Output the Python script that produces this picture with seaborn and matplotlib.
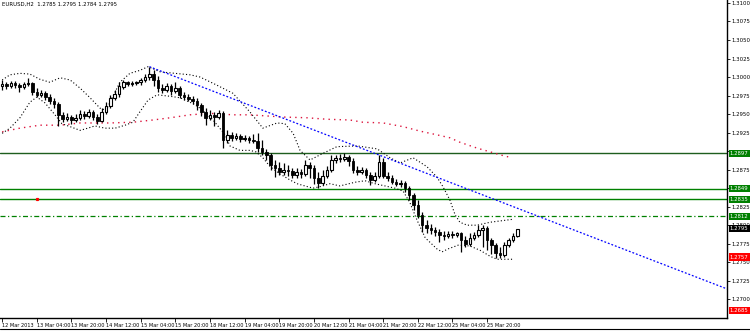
import matplotlib
matplotlib.use("Agg")
import matplotlib.pyplot as plt
import matplotlib.transforms as mtransforms
from matplotlib.lines import Line2D
import numpy as np
import pandas as pd
import seaborn as sns

title_text = "EURUSD,H2  1.2785 1.2795 1.2784 1.2795"

opens = [1.2988, 1.2991, 1.2988, 1.2992, 1.2989, 1.2987, 1.2991, 1.2992, 1.2980, 1.2976,
         1.2978, 1.2973, 1.2968, 1.2964, 1.2949, 1.2943, 1.2946, 1.2942, 1.2945, 1.2950,
         1.2947, 1.2953, 1.2946, 1.2941, 1.2953, 1.2961, 1.2972, 1.2977, 1.2987, 1.2993,
         1.2991, 1.2992, 1.2993, 1.2996, 1.3000, 1.3004, 1.2996, 1.2985, 1.2982, 1.2988,
         1.2981, 1.2985, 1.2976, 1.2973, 1.2970, 1.2968, 1.2962, 1.2953, 1.2945, 1.2949,
         1.2946, 1.2951, 1.2915, 1.2922, 1.2918, 1.2920, 1.2916, 1.2918, 1.2915, 1.2914,
         1.2904, 1.2899, 1.2895, 1.2881, 1.2877, 1.2872, 1.2874, 1.2873, 1.2868, 1.2872,
         1.2869, 1.2881, 1.2877, 1.2864, 1.2857, 1.2866, 1.2874, 1.2888, 1.2891, 1.2889,
         1.2892, 1.2887, 1.2874, 1.2872, 1.2874, 1.2868, 1.2861, 1.2866, 1.2885, 1.2866,
         1.2864, 1.2858, 1.2856, 1.2857, 1.2850, 1.2841, 1.2827, 1.2814, 1.2800, 1.2796,
         1.2793, 1.2791, 1.2787, 1.2785, 1.2788, 1.2787, 1.2789, 1.2780, 1.2775, 1.2783,
         1.2787, 1.2793, 1.2796, 1.2780, 1.2773, 1.2762, 1.2760, 1.2773, 1.2780, 1.2785]
highs = [1.2996, 1.2993, 1.2995, 1.2995, 1.2992, 1.2993, 1.2999, 1.2993, 1.2985, 1.2982,
         1.2981, 1.2977, 1.2972, 1.2966, 1.2953, 1.2951, 1.2949, 1.2950, 1.2955, 1.2954,
         1.2957, 1.2955, 1.2950, 1.2958, 1.2966, 1.2976, 1.2982, 1.2993, 1.2996, 1.2995,
         1.2995, 1.2995, 1.2999, 1.3004, 1.3014, 1.3009, 1.3001, 1.2991, 1.2992, 1.2991,
         1.2993, 1.2988, 1.2980, 1.2977, 1.2974, 1.2972, 1.2965, 1.2958, 1.2955, 1.2953,
         1.2955, 1.2954, 1.2928, 1.2926, 1.2924, 1.2923, 1.2922, 1.2920, 1.2923, 1.2924,
         1.2915, 1.2903, 1.2897, 1.2888, 1.2885, 1.2884, 1.2881, 1.2877, 1.2877, 1.2876,
         1.2888, 1.2885, 1.2881, 1.2872, 1.2874, 1.2880, 1.2895, 1.2895, 1.2896, 1.2897,
         1.2895, 1.2891, 1.2880, 1.2879, 1.2877, 1.2872, 1.2872, 1.2895, 1.2891, 1.2872,
         1.2868, 1.2862, 1.2861, 1.2860, 1.2853, 1.2843, 1.2834, 1.2818, 1.2807, 1.2802,
         1.2798, 1.2795, 1.2792, 1.2792, 1.2792, 1.2791, 1.2791, 1.2785, 1.2789, 1.2791,
         1.2800, 1.2800, 1.2799, 1.2783, 1.2776, 1.2771, 1.2777, 1.2783, 1.2789, 1.2795]
lows = [1.2982, 1.2984, 1.2985, 1.2985, 1.2980, 1.2984, 1.2988, 1.2976, 1.2973, 1.2973,
        1.2969, 1.2964, 1.2958, 1.2934, 1.2939, 1.2941, 1.2937, 1.2939, 1.2942, 1.2943,
        1.2945, 1.2942, 1.2937, 1.2939, 1.2950, 1.2958, 1.2969, 1.2973, 1.2984, 1.2988,
        1.2988, 1.2989, 1.2989, 1.2993, 1.2996, 1.2988, 1.2980, 1.2978, 1.2980, 1.2976,
        1.2978, 1.2972, 1.2969, 1.2968, 1.2964, 1.2955, 1.2947, 1.2935, 1.2942, 1.2934,
        1.2943, 1.2904, 1.2911, 1.2914, 1.2915, 1.2912, 1.2914, 1.2911, 1.2911, 1.2899,
        1.2895, 1.2888, 1.2874, 1.2865, 1.2868, 1.2868, 1.2866, 1.2864, 1.2864, 1.2864,
        1.2866, 1.2864, 1.2856, 1.2850, 1.2854, 1.2864, 1.2872, 1.2884, 1.2885, 1.2887,
        1.2880, 1.2870, 1.2868, 1.2869, 1.2864, 1.2854, 1.2858, 1.2864, 1.2864, 1.2860,
        1.2856, 1.2853, 1.2852, 1.2845, 1.2834, 1.2820, 1.2810, 1.2791, 1.2789, 1.2788,
        1.2785, 1.2777, 1.2780, 1.2783, 1.2783, 1.2784, 1.2764, 1.2771, 1.2772, 1.2780,
        1.2784, 1.2771, 1.2766, 1.2761, 1.2756, 1.2756, 1.2757, 1.2771, 1.2777, 1.2784]
closes = [1.2991, 1.2988, 1.2992, 1.2989, 1.2987, 1.2991, 1.2992, 1.2980, 1.2976, 1.2978,
          1.2973, 1.2968, 1.2964, 1.2949, 1.2943, 1.2946, 1.2942, 1.2945, 1.2950, 1.2947,
          1.2953, 1.2946, 1.2941, 1.2953, 1.2961, 1.2972, 1.2977, 1.2988, 1.2993, 1.2991,
          1.2992, 1.2993, 1.2996, 1.3000, 1.3004, 1.2996, 1.2985, 1.2982, 1.2988, 1.2981,
          1.2985, 1.2976, 1.2973, 1.2970, 1.2968, 1.2962, 1.2953, 1.2945, 1.2949, 1.2946,
          1.2951, 1.2915, 1.2922, 1.2918, 1.2920, 1.2916, 1.2918, 1.2915, 1.2914, 1.2904,
          1.2899, 1.2895, 1.2881, 1.2877, 1.2872, 1.2874, 1.2873, 1.2868, 1.2872, 1.2869,
          1.2881, 1.2877, 1.2864, 1.2857, 1.2866, 1.2874, 1.2888, 1.2891, 1.2889, 1.2892,
          1.2887, 1.2874, 1.2872, 1.2874, 1.2868, 1.2861, 1.2866, 1.2885, 1.2866, 1.2864,
          1.2858, 1.2856, 1.2857, 1.2850, 1.2841, 1.2827, 1.2814, 1.2800, 1.2796, 1.2793,
          1.2791, 1.2787, 1.2785, 1.2788, 1.2787, 1.2789, 1.2780, 1.2775, 1.2783, 1.2787,
          1.2793, 1.2796, 1.2780, 1.2773, 1.2762, 1.2760, 1.2773, 1.2780, 1.2785, 1.2795]

ma_bars = [0, 4.1, 8.7, 13.4, 18.0, 24.9, 30.2, 34.8, 38.8, 43.4, 48.0, 53.3, 57.2, 64.9,
           70.4, 75.0, 80.3, 83.3, 88.0, 92.6, 96.5, 100.4, 103.4, 105.7, 109.7, 112.7, 115.0, 117.7]
ma_vals = [1.2926, 1.2931, 1.2935, 1.2935, 1.2938, 1.2938, 1.2939, 1.2942, 1.2945, 1.2949,
           1.2951, 1.2949, 1.2949, 1.2946, 1.2945, 1.2943, 1.2942, 1.2939, 1.2938, 1.2933,
           1.2927, 1.2922, 1.2918, 1.2912, 1.2904, 1.2899, 1.2895, 1.2891]

bb_up_bars = [0, 1.8, 4.1, 6.4, 8.7, 11.0, 13.4, 15.7, 18.0, 20.3, 22.6, 24.0, 25.4, 27.2,
              29.5, 31.8, 33.7, 36.5, 39.9, 43.4, 45.7, 49.6, 53.3, 57.2, 60.2, 63.5, 65.3,
              67.2, 68.8, 71.1, 74.1, 77.3, 82.0, 86.6, 89.6, 91.9, 94.9, 98.1, 100.4, 101.8,
              103.4, 104.6, 105.7, 107.4, 109.7, 112.7, 118.0]
bb_up_vals = [1.2996, 1.3003, 1.3005, 1.3004, 1.2997, 1.2993, 1.2999, 1.2996, 1.2985, 1.2972,
              1.2958, 1.2955, 1.2972, 1.2993, 1.3005, 1.3009, 1.3014, 1.3007, 1.3005, 1.3003,
              1.3000, 1.2989, 1.2978, 1.2953, 1.2931, 1.2938, 1.2937, 1.2924, 1.2901, 1.2888,
              1.2897, 1.2906, 1.2907, 1.2903, 1.2891, 1.2884, 1.2891, 1.2879, 1.2865, 1.2852,
              1.2834, 1.2814, 1.2804, 1.2800, 1.2800, 1.2804, 1.2808]

bb_lo_bars = [0, 1.8, 4.1, 6.4, 8.0, 9.9, 12.2, 13.8, 15.7, 18.0, 19.8, 21.4, 23.7, 26.1,
              28.4, 30.2, 31.8, 33.7, 35.8, 38.8, 41.1, 44.1, 45.7, 48.7, 51.5, 52.6, 54.9,
              57.2, 58.6, 60.2, 61.9, 64.2, 66.5, 68.1, 69.9, 71.8, 73.4, 75.7, 78.0, 81.5,
              83.8, 86.1, 88.4, 90.7, 92.6, 94.2, 95.8, 97.7, 100.4, 101.6, 103.0, 105.3,
              108.0, 110.4, 112.7, 114.3, 118.0]
bb_lo_vals = [1.2924, 1.2931, 1.2945, 1.2966, 1.2973, 1.2965, 1.2949, 1.2937, 1.2933, 1.2928,
              1.2931, 1.2934, 1.2931, 1.2931, 1.2935, 1.2939, 1.2953, 1.2969, 1.2976, 1.2974,
              1.2972, 1.2964, 1.2958, 1.2942, 1.2922, 1.2907, 1.2901, 1.2901, 1.2899, 1.2891,
              1.2879, 1.2869, 1.2861, 1.2856, 1.2853, 1.2850, 1.2852, 1.2856, 1.2853, 1.2858,
              1.2860, 1.2856, 1.2853, 1.2850, 1.2846, 1.2830, 1.2807, 1.2783, 1.2768, 1.2764,
              1.2768, 1.2773, 1.2772, 1.2766, 1.2758, 1.2754, 1.2754]

trend_bars = [34, 167.4]
trend_vals = [1.3014, 1.2714]

level_prices = [1.2897, 1.2849, 1.2835]
level_colors = ["#1e5e1e", "#008000", "#008000"]
dashed_level = 1.2812
current_price = 1.2795
red_levels = [1.2757, 1.2685]
marker_bar = [8]
marker_price = [1.2835]

price_ticks = [1.2700, 1.2725, 1.2750, 1.2775, 1.2800, 1.2825, 1.2850, 1.2875, 1.2900,
               1.2925, 1.2950, 1.2975, 1.3000, 1.3025, 1.3050, 1.3075, 1.3100]
hidden_price_labels = [1.2900]
time_tick_bars = [0, 8, 16, 24, 32, 40, 48, 56, 64, 72, 80, 88, 96, 104, 112]
time_tick_labels = ["12 Mar 2013", "13 Mar 04:00", "13 Mar 20:00", "14 Mar 12:00",
                    "15 Mar 04:00", "15 Mar 20:00", "18 Mar 12:00", "19 Mar 04:00",
                    "19 Mar 20:00", "20 Mar 12:00", "21 Mar 04:00", "21 Mar 20:00",
                    "22 Mar 12:00", "25 Mar 04:00", "25 Mar 20:00"]

sns.set_style("white")
plt.rcParams["font.family"] = ["DejaVu Sans"]

fig = plt.figure(figsize=(7.5, 3.31), dpi=100)
ax = fig.add_axes([0, 13 / 331, 727 / 750, 318 / 331])
ax.set_facecolor("white")

df = pd.DataFrame({"open": opens, "high": highs, "low": lows, "close": closes})
df["bar"] = np.arange(len(df))

# horizontal levels
for p, c in zip(level_prices, level_colors):
    ax.axhline(p, color=c, lw=1.0, zorder=1)
ax.axhline(dashed_level, color="#008000", lw=0.9, ls=(0, (4, 2, 1, 2)), zorder=1)

# indicators
ma_df = pd.DataFrame({"bar": ma_bars, "price": ma_vals})
up_df = pd.DataFrame({"bar": bb_up_bars, "price": bb_up_vals})
lo_df = pd.DataFrame({"bar": bb_lo_bars, "price": bb_lo_vals})
tr_df = pd.DataFrame({"bar": trend_bars, "price": trend_vals})
sns.lineplot(data=ma_df, x="bar", y="price", ax=ax, color="#dc143c", lw=1.0,
             linestyle=(0, (1, 3)), zorder=2)
sns.lineplot(data=up_df, x="bar", y="price", ax=ax, color="black", lw=0.8,
             linestyle=(0, (1, 2)), zorder=2)
sns.lineplot(data=lo_df, x="bar", y="price", ax=ax, color="black", lw=0.8,
             linestyle=(0, (1, 2)), zorder=2)
sns.lineplot(data=tr_df, x="bar", y="price", ax=ax, color="#0000ff", lw=0.9,
             linestyle=(0, (1.5, 1.5)), zorder=2)

# candles
ax.vlines(df["bar"], df["low"], df["high"], color="black", lw=0.9, zorder=3)
bull = df["close"] >= df["open"]
bottoms = np.minimum(df["open"], df["close"])
heights = np.maximum(np.abs(df["close"] - df["open"]), 0.00004)
ax.bar(df["bar"][bull], heights[bull], bottom=bottoms[bull], width=0.6,
       color="white", edgecolor="black", linewidth=0.8, zorder=4)
ax.bar(df["bar"][~bull], heights[~bull], bottom=bottoms[~bull], width=0.6,
       color="black", edgecolor="black", linewidth=0.6, zorder=4)

ax.plot(marker_bar, marker_price, "s", color="red", ms=1.3, zorder=5)

ax.set_xlim(-0.5, 167.4)
ax.set_ylim(1.26747, 1.3104)

# axes styling
for s in ["top", "left"]:
    ax.spines[s].set_visible(False)
for s in ["right", "bottom"]:
    ax.spines[s].set_visible(True)
    ax.spines[s].set_color("black")
    ax.spines[s].set_linewidth(1.0)

ax.yaxis.tick_right()
ax.set_yticks(price_ticks)
ax.set_yticklabels(["" if v in hidden_price_labels else f"{v:.4f}" for v in price_ticks])
ax.tick_params(axis="y", which="major", direction="out", length=2, width=0.6,
               pad=1, labelsize=3.9, colors="black", right=True, left=False)
ax.set_xticks(time_tick_bars)
ax.set_xticklabels(time_tick_labels)
ax.tick_params(axis="x", which="major", direction="out", length=3, width=0.6,
               pad=0.3, labelsize=3.6, colors="black", bottom=True)
for lbl in ax.get_xticklabels():
    lbl.set_horizontalalignment("left")
ax.set_xlabel("")
ax.set_ylabel("")
ax.grid(False)

# price boxes on right axis
trans = mtransforms.blended_transform_factory(ax.transAxes, ax.transData)
box_items = [(level_prices[0], "#008000"), (level_prices[1], "#008000"),
             (level_prices[2], "#008000"), (dashed_level, "#008000"),
             (current_price, "black"), (red_levels[0], "#ff0000"), (red_levels[1], "#ff0000")]
for p, c in box_items:
    ax.text(1.004, p, f"{p:.4f}", transform=trans, ha="left", va="center",
            fontsize=3.9, color="white", clip_on=False, zorder=10,
            bbox=dict(boxstyle="square,pad=0.2", fc=c, ec="none"))

ax.text(0.003, 0.993, title_text, transform=ax.transAxes, ha="left", va="top",
        fontsize=3.9, color="black")

fig.add_artist(Line2D([0, 1], [2.5 / 331, 2.5 / 331], color="black", lw=0.8))

fig.savefig("out.png", dpi=100, facecolor="white")
